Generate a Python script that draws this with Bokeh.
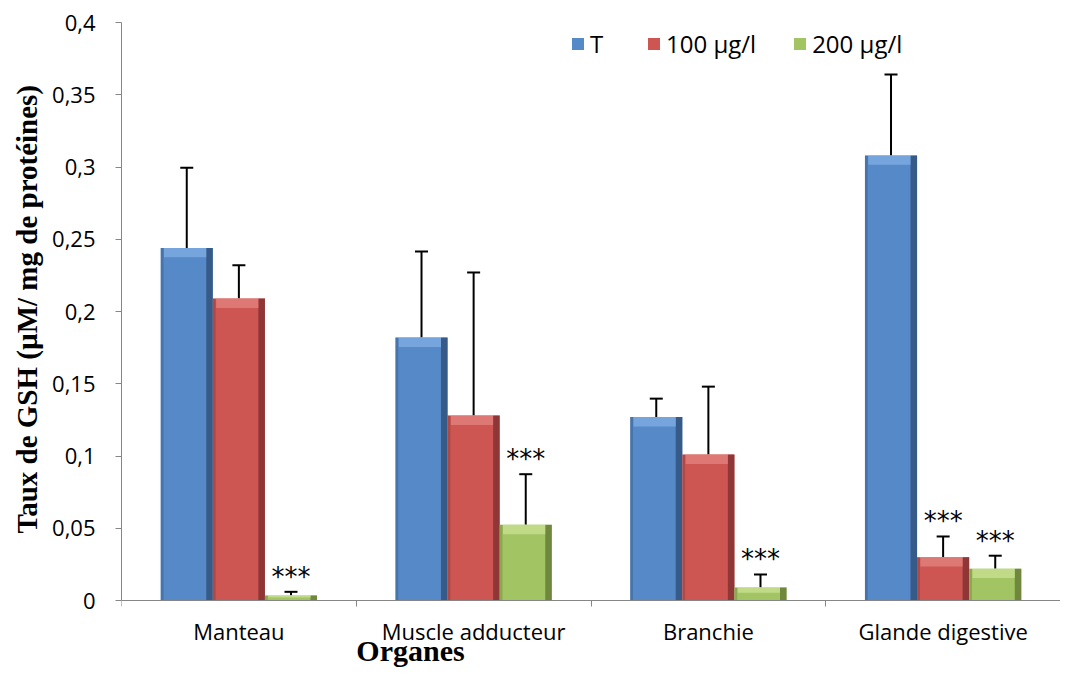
from bokeh.plotting import figure
from bokeh.models import ColumnDataSource, FixedTicker, Whisker, TeeHead, Legend, LegendItem, Range1d, Title
from bokeh.core.properties import value
from bokeh.transform import dodge
from bokeh.embed import file_html
from bokeh.resources import INLINE

# ---- data ----
organes = ["Manteau", "Muscle adducteur", "Branchie", "Glande digestive"]
series_names = ["T", "100 µg/l", "200 µg/l"]
vals_T = [0.244, 0.182, 0.127, 0.308]
err_T = [0.0555, 0.0595, 0.0127, 0.056]
vals_100 = [0.209, 0.128, 0.101, 0.030]
err_100 = [0.023, 0.099, 0.047, 0.0143]
vals_200 = [0.0035, 0.0524, 0.009, 0.022]
err_200 = [0.0025, 0.035, 0.009, 0.009]
sig_T = ["", "", "", ""]
sig_100 = ["", "", "", "***"]
sig_200 = ["***", "***", "***", "***"]
y_ticks = [0, 0.05, 0.1, 0.15, 0.2, 0.25, 0.3, 0.35, 0.4]
y_tick_labels = ["0", "0,05", "0,1", "0,15", "0,2", "0,25", "0,3", "0,35", "0,4"]
x_title = "Organes"
y_title = "Taux de GSH (µM/ mg de protéines)"

# ---- styling ----
colors = ["#5589C8", "#CD5653", "#A3C462"]
dark = ["#2E4C73", "#7A2E2C", "#5E7432"]
light = ["#7AA8E0", "#E07C78", "#C4DD8C"]
BW = 0.222
offsets = [-BW, 0.0, BW]
FONT = "Open Sans"
Y_MIN = -0.4 * 68 / 578  # extra room under the zero line for the category texts

p = figure(width=1060, height=668, output_backend="svg", toolbar_location=None,
           x_range=Range1d(0, 4), y_range=Range1d(Y_MIN, 0.4),
           min_border_left=121, min_border_top=22, min_border_bottom=0, min_border_right=0)
p.outline_line_color = None
p.xgrid.visible = False
p.ygrid.visible = False
p.background_fill_color = "white"

centers = [i + 0.5 for i in range(len(organes))]
all_vals = [vals_T, vals_100, vals_200]
all_err = [err_T, err_100, err_200]
all_sig = [sig_T, sig_100, sig_200]

legend_items = []
for j in range(3):
    v = all_vals[j]
    e = all_err[j]
    src = ColumnDataSource(dict(
        x=centers, top=v, up=[a + b for a, b in zip(v, e)],
        band=[max(a - 0.0065, a * 0.6) for a in v],
        sig=all_sig[j],
        sy=[a + b + 0.0104 for a, b in zip(v, e)],
    ))
    xd = dodge("x", offsets[j], range=p.x_range)
    r = p.vbar(x=xd, width=BW, top="top", bottom=0, source=src,
               fill_color=colors[j], line_color=None)
    # bevel-like shading
    p.vbar(x=dodge("x", offsets[j] + BW / 2 - 0.014, range=p.x_range), width=0.028, top="top", bottom=0,
           source=src, fill_color=dark[j], line_color=None, fill_alpha=0.75)
    p.vbar(x=dodge("x", offsets[j] - BW / 2 + 0.006, range=p.x_range), width=0.012, top="top", bottom=0,
           source=src, fill_color=dark[j], line_color=None, fill_alpha=0.35)
    p.vbar(x=dodge("x", offsets[j] - 0.007, range=p.x_range), width=BW - 0.042, top="top", bottom="band",
           source=src, fill_color=light[j], line_color=None, fill_alpha=0.9)
    w = Whisker(base=xd, lower="top", upper="up", source=src, dimension="height",
                line_color="black", line_width=2,
                upper_head=TeeHead(size=13, line_color="black", line_width=2), lower_head=None)
    p.add_layout(w)
    p.text(x=xd, y="sy", text="sig", source=src,
           text_align="center", text_baseline="middle", text_font=value("DejaVu Sans"),
           text_font_size="26px", text_color="black")
    legend_items.append(LegendItem(label=series_names[j], renderers=[r]))

legend = Legend(items=legend_items, orientation="horizontal", location=(449, 608),
                border_line_color=None, background_fill_alpha=0,
                label_text_font=FONT, label_text_font_size="24px", label_text_color="black",
                glyph_width=15, glyph_height=15, label_standoff=5, spacing=36, padding=0, margin=0)
p.add_layout(legend)

# axes
yax = p.yaxis[0]
yax.ticker = FixedTicker(ticks=y_ticks)
yax.bounds = (y_ticks[0], y_ticks[-1])
yax.major_label_overrides = {t: l for t, l in zip(y_ticks, y_tick_labels)}
yax.axis_line_color = "#868686"
yax.major_tick_line_color = "#868686"
yax.major_tick_in = 0
yax.major_tick_out = 6
yax.minor_tick_line_color = None
yax.major_label_text_font = FONT
yax.major_label_text_font_size = "22px"
yax.major_label_text_color = "black"
yax.major_label_standoff = 20

ytitle = Title(text=y_title, align="left", offset=135, standoff=14,
               text_font="Liberation Serif", text_font_style="bold", text_font_size="29px",
               text_color="black")
p.add_layout(ytitle, "left")

xax = p.xaxis[0]
xax.fixed_location = 0
xax.ticker = FixedTicker(ticks=centers, minor_ticks=[0, 1, 2, 3, 4])
xax.major_label_overrides = {c: n for c, n in zip(centers, organes)}
xax.axis_line_color = "#868686"
xax.major_tick_line_color = None
xax.major_tick_in = 0
xax.major_tick_out = 0
xax.minor_tick_line_color = "#868686"
xax.minor_tick_in = 0
xax.minor_tick_out = 6
xax.major_label_text_font = FONT
xax.major_label_text_font_size = "22px"
xax.major_label_text_color = "black"
xax.major_label_standoff = 9

tsrc = ColumnDataSource(dict(x=[1.231], y=[-0.0462], t=[x_title]))
p.text(x="x", y="y", text="t", source=tsrc, text_align="center", text_baseline="bottom",
       text_font=value("Liberation Serif"), text_font_style="bold", text_font_size="30px",
       text_color="black")

open("out.html", "w").write(file_html(p, INLINE))
